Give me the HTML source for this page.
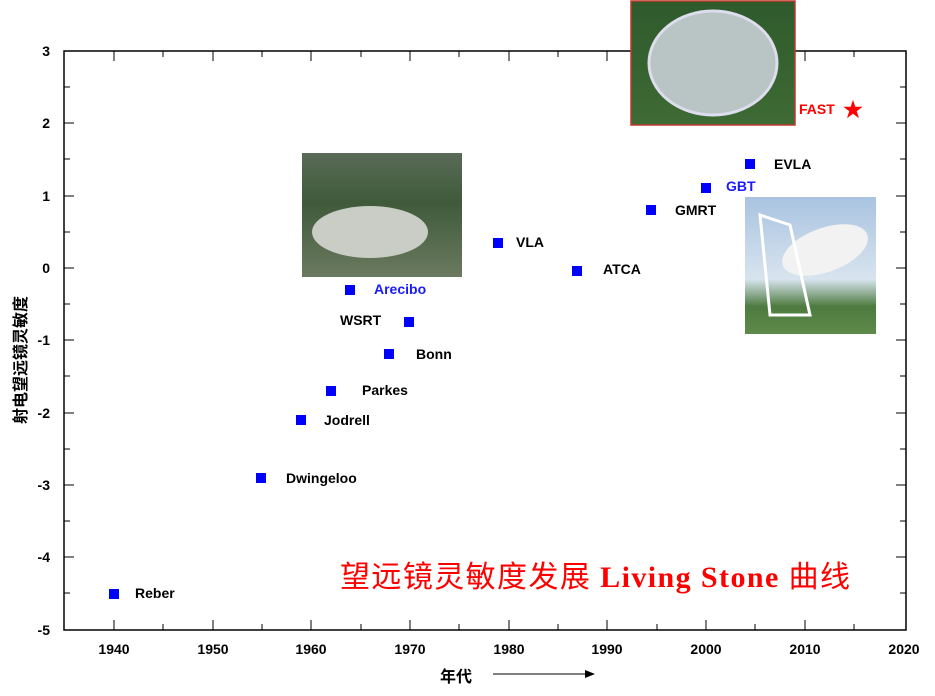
<!DOCTYPE html>
<html><head><meta charset="utf-8"><style>
body{margin:0;background:#fff;}
svg text{font-family:"Liberation Sans",Arial,sans-serif;font-weight:bold;}
</style></head><body>
<svg width="935" height="691" xmlns="http://www.w3.org/2000/svg">
<defs>
<linearGradient id="g1" x1="0" y1="0" x2="0" y2="1"><stop offset="0" stop-color="#5a6b58"/><stop offset="0.4" stop-color="#3f5a3a"/><stop offset="1" stop-color="#6b7a60"/></linearGradient>
<linearGradient id="g2" x1="0" y1="0" x2="0" y2="1"><stop offset="0" stop-color="#2f5a2c"/><stop offset="1" stop-color="#3e6a34"/></linearGradient>
<linearGradient id="g3" x1="0" y1="0" x2="0" y2="1"><stop offset="0" stop-color="#a9c3e0"/><stop offset="0.6" stop-color="#d8e4ef"/><stop offset="0.8" stop-color="#4d7a3f"/><stop offset="1" stop-color="#5e8a4a"/></linearGradient>
</defs>
<rect x="64" y="51" width="842" height="579" fill="none" stroke="#000" stroke-width="1.5"/>
<g stroke="#000" stroke-width="1">
<path d="M64 51h10M64 87h6M64 123h10M64 159h6M64 196h10M64 232h6M64 268h10M64 304h6M64 340h10M64 376h6M64 413h10M64 449h6M64 485h10M64 521h6M64 557h10M64 593h6M906 51h-10M906 87h-6M906 123h-10M906 159h-6M906 196h-10M906 232h-6M906 268h-10M906 304h-6M906 340h-10M906 376h-6M906 413h-10M906 449h-6M906 485h-10M906 521h-6M906 557h-10M906 593h-6"/>
<path d="M114 630v-10M163 630v-6M213 630v-10M262 630v-6M311 630v-10M361 630v-6M410 630v-10M459 630v-6M509 630v-10M558 630v-6M607 630v-10M657 630v-6M706 630v-10M755 630v-6M805 630v-10M854 630v-6M114 51v10M163 51v6M213 51v10M262 51v6M311 51v10M361 51v6M410 51v10M459 51v6M509 51v10M558 51v6M607 51v10M657 51v6M706 51v10M755 51v6M805 51v10M854 51v6"/>
</g>
<g font-size="14" text-anchor="end">
<text x="50" y="56">3</text><text x="50" y="128">2</text><text x="50" y="201">1</text><text x="50" y="273">0</text><text x="50" y="345">-1</text><text x="50" y="418">-2</text><text x="50" y="490">-3</text><text x="50" y="562">-4</text><text x="50" y="635">-5</text>
</g>
<g font-size="14" text-anchor="middle">
<text x="114" y="654">1940</text><text x="213" y="654">1950</text><text x="311" y="654">1960</text><text x="410" y="654">1970</text><text x="509" y="654">1980</text><text x="607" y="654">1990</text><text x="706" y="654">2000</text><text x="805" y="654">2010</text><text x="904" y="654">2020</text>
</g>
<text x="440" y="682" font-size="16" style="font-family:'Liberation Sans','Noto Sans CJK SC',sans-serif">年代</text>
<path d="M493 674h92" stroke="#000" stroke-width="1"/><path d="M585 670l10 4-10 4z" fill="#000"/>
<text transform="translate(26 360) rotate(-90)" font-size="16" text-anchor="middle" style="font-family:'Liberation Sans','Noto Sans CJK SC',sans-serif">射电望远镜灵敏度</text>
<rect x="302" y="153" width="160" height="124" fill="url(#g1)"/>
<ellipse cx="370" cy="232" rx="58" ry="26" fill="#c9cdc5"/>
<rect x="631" y="1" width="164" height="124" fill="url(#g2)" stroke="#c0392b" stroke-width="1.5"/>
<ellipse cx="713" cy="63" rx="64" ry="52" fill="#b9c4c4" stroke="#dde" stroke-width="3"/>
<rect x="745" y="197" width="131" height="137" fill="url(#g3)"/>
<ellipse cx="825" cy="250" rx="45" ry="22" fill="#f2f2f2" transform="rotate(-20 825 250)"/>
<path d="M760 215l10 100h40l-20-90z" fill="none" stroke="#fff" stroke-width="3"/>
<g fill="#0000ff">
<rect x="109" y="589" width="10" height="10"/>
<rect x="256" y="473" width="10" height="10"/>
<rect x="296" y="415" width="10" height="10"/>
<rect x="326" y="386" width="10" height="10"/>
<rect x="345" y="285" width="10" height="10"/>
<rect x="384" y="349" width="10" height="10"/>
<rect x="404" y="317" width="10" height="10"/>
<rect x="493" y="238" width="10" height="10"/>
<rect x="572" y="266" width="10" height="10"/>
<rect x="646" y="205" width="10" height="10"/>
<rect x="701" y="183" width="10" height="10"/>
<rect x="745" y="159" width="10" height="10"/>
</g>
<g font-size="14">
<text x="135" y="598">Reber</text>
<text x="286" y="483">Dwingeloo</text>
<text x="324" y="425">Jodrell</text>
<text x="362" y="395">Parkes</text>
<text x="374" y="294" fill="#1a1aff">Arecibo</text>
<text x="340" y="325">WSRT</text>
<text x="416" y="359">Bonn</text>
<text x="516" y="247">VLA</text>
<text x="603" y="274">ATCA</text>
<text x="675" y="215">GMRT</text>
<text x="726" y="191" fill="#1a1aff">GBT</text>
<text x="774" y="169">EVLA</text>
<text x="799" y="114" fill="#ff0000">FAST</text>
</g>
<text x="853" y="117" font-size="22" fill="#ff0000" text-anchor="middle">★</text>
<text x="340" y="587" font-size="30" fill="#ff0000" textLength="510" lengthAdjust="spacing" style="font-family:'Liberation Serif','Noto Sans CJK SC',serif;font-weight:normal"><tspan style="font-family:'Noto Sans CJK SC',sans-serif">望远镜灵敏度发展</tspan><tspan font-weight="bold"> Living Stone </tspan><tspan style="font-family:'Noto Sans CJK SC',sans-serif">曲线</tspan></text>
</svg>
</body></html>
